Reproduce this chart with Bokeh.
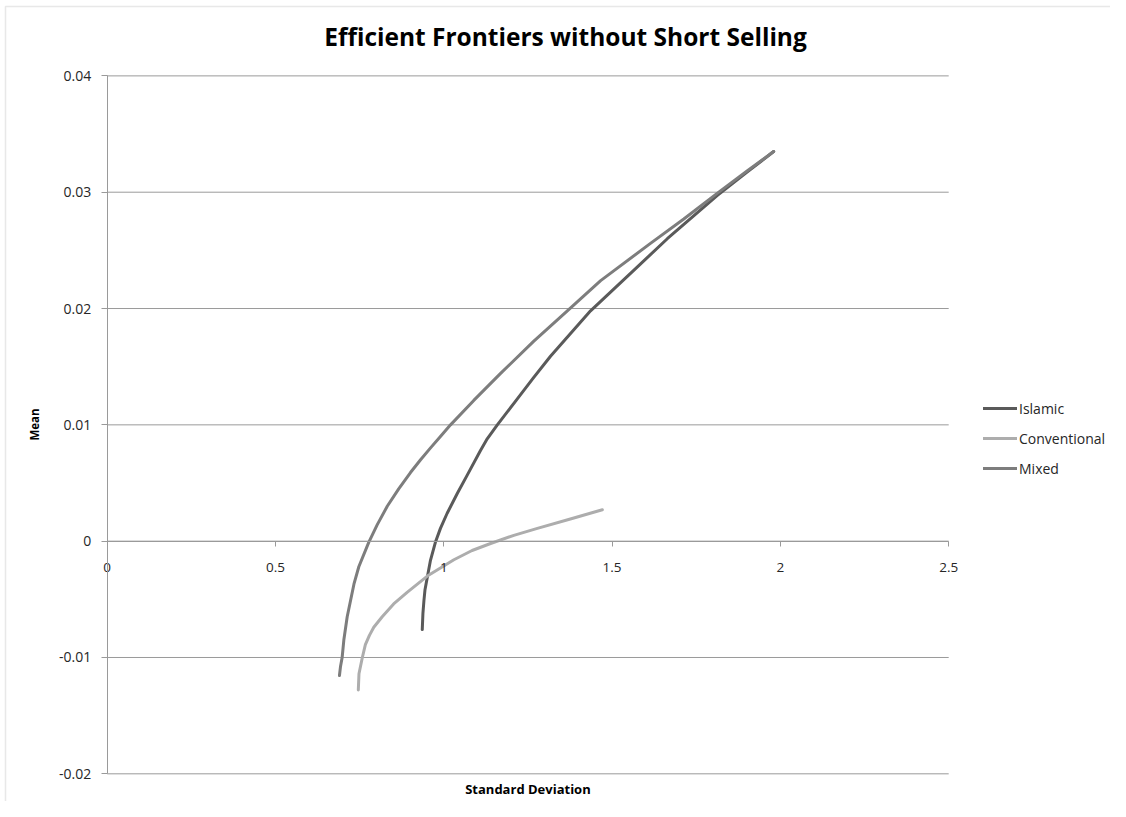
from bokeh.plotting import figure
from bokeh.models import (FixedTicker, LinearAxis, Legend, LegendItem, Label, Range1d, BoxAnnotation)
from bokeh.embed import file_html
from bokeh.resources import INLINE

# ---- data ----
islamic_sd = [0.936, 0.938, 0.941, 0.944, 0.951, 0.960, 0.975, 0.990, 1.010, 1.040, 1.070, 1.109, 1.129,
              1.159, 1.215, 1.265, 1.317, 1.436, 1.565, 1.664, 1.812, 1.900, 1.980]
islamic_mean = [-0.0076, -0.0062, -0.0051, -0.0042, -0.0031, -0.0017, -0.0001, 0.0011, 0.0024, 0.0041, 0.0057,
                0.0078, 0.0088, 0.0100, 0.0121, 0.0140, 0.0159, 0.0198, 0.0233, 0.0260, 0.0297, 0.0317, 0.0335]

conv_sd = [0.746, 0.748, 0.758, 0.767, 0.779, 0.792, 0.817, 0.851, 0.891, 0.951, 0.990, 1.030, 1.084, 1.139,
           1.208, 1.278, 1.376, 1.471]
conv_mean = [-0.0128, -0.0114, -0.0100, -0.0089, -0.0081, -0.0074, -0.0065, -0.0054, -0.0044, -0.0030, -0.0023,
             -0.0016, -0.0008, -0.0002, 0.0005, 0.0011, 0.0019, 0.0027]

mixed_sd = [0.690, 0.693, 0.698, 0.703, 0.713, 0.723, 0.733, 0.7475, 0.777, 0.802, 0.832, 0.866, 0.901, 0.931,
            0.960, 0.990, 1.020, 1.089, 1.168, 1.2675, 1.367, 1.466, 1.614, 1.713, 1.812, 1.900, 1.980]
mixed_mean = [-0.01155, -0.0108, -0.0100, -0.0085, -0.0065, -0.0051, -0.0037, -0.0022, -0.0001, 0.0014, 0.0030,
              0.0045, 0.0059, 0.0070, 0.0080, 0.0090, 0.0100, 0.0121, 0.0144, 0.0172, 0.0198, 0.0224, 0.0256,
              0.0277, 0.0299, 0.0318, 0.0335]

series_names = ["Islamic", "Conventional", "Mixed"]
series_colors = ["#5a5a5a", "#adadad", "#7d7d7d"]

x_ticks = [0, 0.5, 1, 1.5, 2, 2.5]
x_tick_labels = ["0", "0.5", "1", "1.5", "2", "2.5"]
y_ticks = [-0.02, -0.01, 0, 0.01, 0.02, 0.03, 0.04]
y_tick_labels = ["-0.02", "-0.01", "0", "0.01", "0.02", "0.03", "0.04"]

title_text = "Efficient Frontiers without Short Selling"
x_title = "Standard Deviation"
y_title = "Mean"

FONT = "Open Sans"
TXT = "#262626"
AXC = "#9a9a9a"

W, H = 1110, 801
# the frame covers the whole canvas; the visible plot area (0..2.5, -0.02..0.04) sits inside it
p = figure(width=W, height=H, output_backend="svg", toolbar_location=None,
           x_range=Range1d(-0.317, 2.9807), y_range=Range1d(-0.02238, 0.04648),
           x_axis_location=None, y_axis_location=None,
           min_border=0, min_border_left=0, min_border_right=0, min_border_top=0, min_border_bottom=0)
p.outline_line_color = None
p.background_fill_color = "white"
p.border_fill_color = "white"
for g in p.grid:
    g.visible = False

# chart area border (top / left / right edges as in the reference)
p.add_layout(BoxAnnotation(left=5, right=1124, bottom=-20, top=H - 6,
                           left_units="screen", right_units="screen", bottom_units="screen", top_units="screen",
                           fill_alpha=0, line_color="#b4b4b4", line_width=1.5))

# horizontal gridlines spanning the x axis extent only
n_y = len(y_ticks)
p.segment(x0=[x_ticks[0]] * n_y, x1=[x_ticks[-1]] * n_y, y0=y_ticks, y1=y_ticks,
          line_color=AXC, line_width=1)

# y axis at x = 0
ya = LinearAxis(fixed_location=0, ticker=FixedTicker(ticks=y_ticks), bounds=(y_ticks[0], y_ticks[-1]))
ya.major_label_overrides = {v: s for v, s in zip(y_ticks, y_tick_labels)}
ya.axis_line_color = AXC
ya.major_tick_line_color = AXC
ya.major_tick_out = 6
ya.major_tick_in = 0
ya.minor_tick_line_color = None
ya.major_label_standoff = 10
ya.major_label_text_font = FONT
ya.major_label_text_font_size = "14px"
ya.major_label_text_color = TXT
ya.axis_label = y_title
ya.axis_label_text_font = FONT
ya.axis_label_text_font_size = "11.5px"
ya.axis_label_text_font_style = "bold"
ya.axis_label_text_color = "#000000"
ya.axis_label_standoff = 14
p.add_layout(ya, "left")

# x axis crossing at y = 0
xa = LinearAxis(fixed_location=0, ticker=FixedTicker(ticks=x_ticks), bounds=(x_ticks[0], x_ticks[-1]))
xa.major_label_overrides = {v: s for v, s in zip(x_ticks, x_tick_labels)}
xa.axis_line_color = AXC
xa.major_tick_line_color = AXC
xa.major_tick_out = 5
xa.major_tick_in = 0
xa.minor_tick_line_color = None
xa.major_label_standoff = 17
xa.major_label_text_font = FONT
xa.major_label_text_font_size = "13.5px"
xa.major_label_text_color = TXT
p.add_layout(xa, "below")

# titles
p.add_layout(Label(x=1.3616, y=H - 36, y_units="screen", text=title_text,
                   text_align="center", text_baseline="middle", text_font=FONT,
                   text_font_size="24.5px", text_font_style="bold", text_color="#000000"))
p.add_layout(Label(x=1.25, y=H - 788, y_units="screen", text=x_title,
                   text_align="center", text_baseline="middle", text_font=FONT,
                   text_font_size="13px", text_font_style="bold", text_color="#000000"))

r1 = p.line(islamic_sd, islamic_mean, line_color=series_colors[0], line_width=3, line_cap="round", line_join="round")
r2 = p.line(conv_sd, conv_mean, line_color=series_colors[1], line_width=3, line_cap="round", line_join="round")
r3 = p.line(mixed_sd, mixed_mean, line_color=series_colors[2], line_width=3, line_cap="round", line_join="round")

legend = Legend(items=[LegendItem(label=n, renderers=[r]) for n, r in zip(series_names, [r1, r2, r3])],
                location=(983, H - 478), border_line_color=None, background_fill_alpha=0,
                label_text_font=FONT, label_text_font_size="14px", label_text_color=TXT,
                glyph_width=34, glyph_height=20, label_height=20, label_standoff=2,
                spacing=10, padding=0, margin=0)
p.add_layout(legend, "center")

open("out.html", "w").write(file_html(p, INLINE))
